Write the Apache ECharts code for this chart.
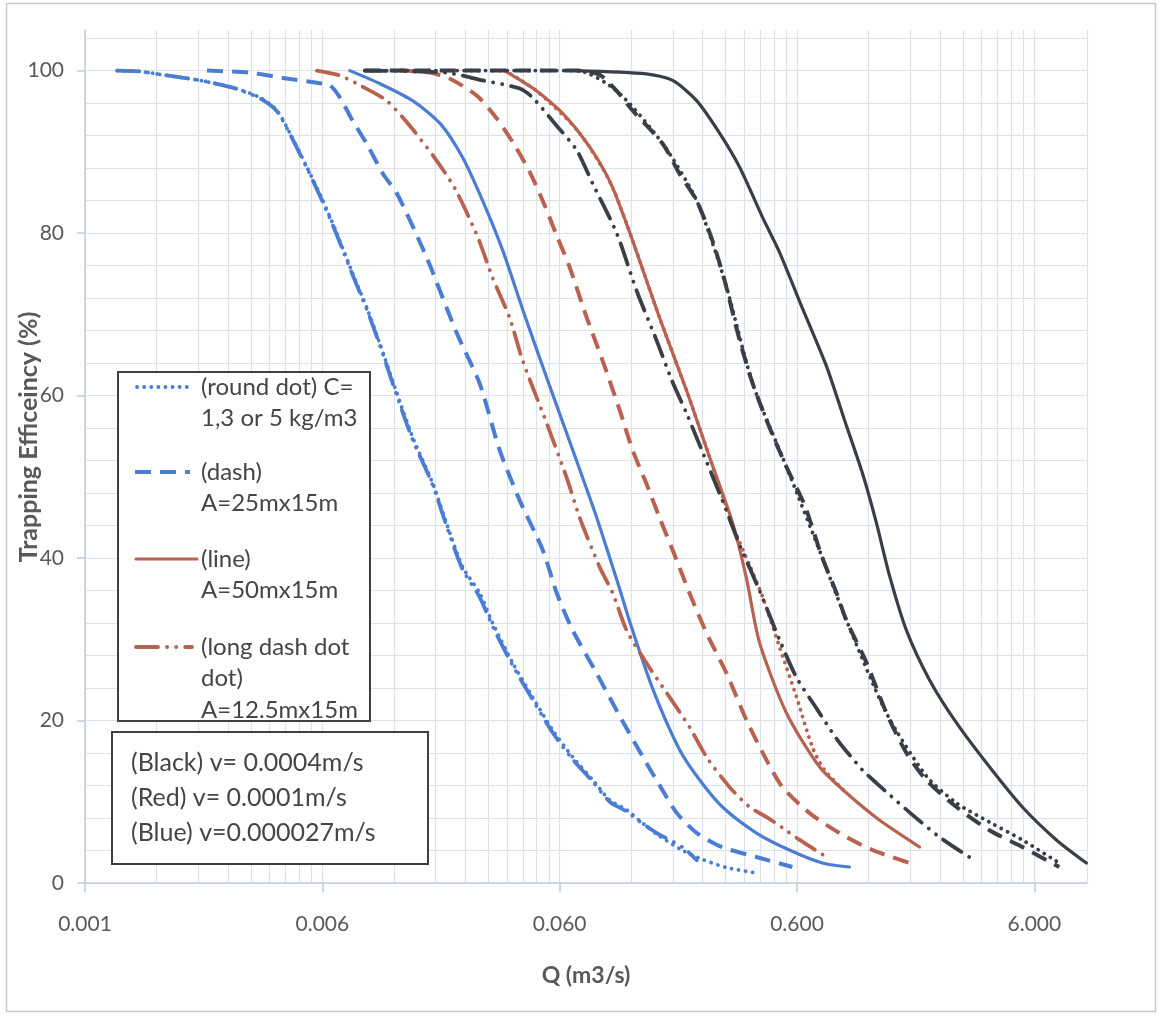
<!DOCTYPE html>
<html>
<head>
<meta charset="utf-8">
<script src="https://cdn.jsdelivr.net/npm/echarts@6/dist/echarts.min.js"></script>
<style>
html,body{margin:0;padding:0;background:#ffffff;}
#chart{width:1161px;height:1016px;}
</style>
</head>
<body>
<div id="chart"></div>
<script>
// ---------------- Data (Q in m3/s, trapping efficiency in %) ----------------
// Blue: v = 0.000027 m/s
const blueDotQ = [0.00082,0.00102,0.00133,0.00183,0.00252,0.00327,0.00386,0.00438,0.00517,0.00603,0.0069,0.00806,0.00924,0.01048,0.01236,0.0144,0.0175,0.0200,0.0234,0.0276,0.0313,0.0380,0.0461,0.0561,0.0681,0.0826,0.0975,0.1149,0.130,0.154,0.198,0.240,0.303,0.405];
const blueDotV = [100,99.9,99.4,98.8,97.9,96.7,95.1,92.3,88.1,84.0,80.0,75.0,70.8,66.4,60.3,54.9,49.2,44.3,38.9,35.7,32.0,27.1,22.9,18.8,15.5,12.7,10.2,9.0,7.7,6.0,4.0,2.9,1.9,1.23];
const blueDddQ = [0.00082,0.00102,0.00133,0.00183,0.00252,0.00327,0.00386,0.00438,0.00517,0.00603,0.0069,0.00806,0.00924,0.01048,0.01236,0.0144,0.0175,0.0200,0.0234,0.0276,0.0313,0.0380,0.0461,0.0561,0.0681,0.0826,0.0975,0.1149,0.130,0.154,0.198,0.227];
const blueDddV = [100,99.9,99.4,98.8,97.9,96.6,95.0,92.2,88.0,83.8,79.8,74.8,70.6,66.2,60.0,54.6,49.0,44.0,38.6,35.2,31.6,26.8,22.6,18.5,15.2,12.5,10.0,8.8,7.6,6.15,4.4,2.8];
const blueDashQ = [0.00196,0.00297,0.00409,0.00569,0.00646,0.00711,0.00806,0.00923,0.0108,0.01236,0.0165,0.0221,0.0276,0.0335,0.0407,0.0509,0.0583,0.0681,0.0859,0.110,0.139,0.158,0.187,0.227,0.291,0.405,0.574];
const blueDashV = [100,99.75,99.1,98.5,98.2,96.7,93.8,91.0,87.3,84.9,77.0,67.7,61.5,53.3,47.1,41.0,35.7,31.1,25.8,20.0,14.8,12.05,8.6,6.15,4.4,3.2,1.97];
const blueLineQ = [0.00783,0.01048,0.0144,0.0188,0.0234,0.0284,0.0345,0.0419,0.0529,0.0681,0.0859,0.1074,0.1183,0.148,0.192,0.233,0.291,0.405,0.557,0.768,0.998];
const blueLineV = [100,98.4,96.3,93.5,89.3,84.0,77.9,70.6,62.2,53.3,45.0,36.2,32.2,23.9,16.4,12.7,9.35,6.15,4.06,2.46,1.97];
// Red: v = 0.0001 m/s
const redLineQ = [0.0352,0.0395,0.048,0.06,0.0728,0.0859,0.1003,0.1217,0.158,0.2056,0.257,0.3215,0.368,0.417,0.542,0.746,0.970,1.334,1.97];
const redLineV = [100,99.1,97.5,95.1,92.3,89.3,85.6,79.1,69.6,60.6,52.4,44.3,37.4,29.6,20.9,14.3,11.07,7.75,4.43];
const redDotQ = [0.0352,0.048,0.0728,0.1003,0.158,0.2056,0.257,0.3215,0.379,0.430,0.507,0.597,0.697,0.784,0.970];
const redDotV = [100,97.5,92.3,85.6,69.6,60.6,52.4,44.0,39.1,35.2,29.0,22.9,16.7,13.9,11.07];
const redDashQ = [0.0127,0.0170,0.0207,0.0269,0.0326,0.0388,0.0449,0.0519,0.0583,0.0661,0.078,0.091,0.1074,0.1217,0.139,0.158,0.1795,0.2114,0.2495,0.303,0.368,0.447,0.521,0.678,0.906,1.248,1.91];
const redDashV = [100,99.75,99.0,96.9,94.1,90.8,87.5,83.4,79.7,75.8,69.6,64.3,58.2,53.3,49.2,45.0,41.0,35.7,30.75,25.8,20.0,15.1,11.8,8.6,6.15,4.06,2.2];
const redDddQ = [0.00569,0.00711,0.00863,0.0112,0.0143,0.0179,0.0217,0.0271,0.0313,0.0369,0.0419,0.0529,0.0642,0.0728,0.0884,0.1003,0.1149,0.139,0.1695,0.2114,0.2495,0.312,0.379,0.447,0.521,0.615,0.799];
const redDddV = [100,99.4,98.2,96.3,92.9,89.2,85.5,79.5,74.5,69.6,64.3,56.6,49.9,45.0,38.9,35.7,31.1,27.1,23.4,19.2,15.5,11.8,9.35,8.1,6.8,5.3,3.2];
// Black: v = 0.0004 m/s
const blackDddQ = [0.00906,0.0200,0.0284,0.0407,0.0461,0.0572,0.0708,0.0826,0.1043,0.1266,0.1536,0.178,0.2056,0.238,0.291,0.344,0.417,0.507,0.597,0.725,0.889,1.133,1.297,1.787,2.39,3.19];
const blackDddV = [100,99.75,98.8,97.8,96.7,93.5,90.2,86.1,80.0,72.9,66.8,61.9,57.8,53.3,47.1,41.6,36.0,29.9,25.3,21.5,17.6,13.9,12.3,8.7,5.66,3.2];
const blackDashQ = [0.00906,0.0708,0.0884,0.1043,0.1217,0.163,0.192,0.2266,0.264,0.297,0.344,0.390,0.459,0.542,0.646,0.761,0.88,0.97,1.178,1.43,1.735,2.10,2.82,3.88,5.34,7.64];
const blackDashV = [100,100,99.5,97.5,95.1,91.0,87.3,84.0,79.1,74.2,66.8,61.5,56.1,51.2,46.5,40.3,35.7,32.3,27.1,20.9,16.0,12.7,9.35,6.5,4.43,1.97];
const blackDotQ = [0.00906,0.0708,0.1043,0.163,0.2266,0.297,0.390,0.542,0.761,0.97,1.43,2.10,2.82,3.88,5.34,7.5];
const blackDotV = [100,100,97.5,91.0,84.0,74.2,61.5,51.2,40.3,32.3,20.9,13.2,9.84,7.5,5.3,2.6];
const blackLineQ = [0.0708,0.139,0.1795,0.2266,0.283,0.344,0.43,0.507,0.615,0.799,0.951,1.133,1.297,1.47,1.735,2.17,2.82,3.88,5.34,7.43,9.94];
const blackLineV = [100,99.6,98.8,96.3,92.3,88.1,81.9,77.6,71.6,63.6,57.0,50.4,44.3,37.9,31.1,25.0,19.7,14.3,9.35,5.3,2.46];

// Axis ticks
const xMin = 0.0006, xMax = 10;
const xMajorTicks = [0.0006, 0.006, 0.06, 0.6, 6];
const xMinorMultipliers = [1,2,3,4,5,6,7,8,9];
const yMajorTicks = [0, 20, 40, 60, 80, 100];
const yMin = 0, yMax = 105, yGridStep = 4;

// Titles and legend texts
const xTitle = 'Q (m3/s)';
const yTitle = 'Trapping Efficeincy (%)';
const legendEntries = [
  ['(round dot) C=', '1,3 or 5 kg/m3'],
  ['(dash)', 'A=25mx15m'],
  ['(line)', 'A=50mx15m'],
  ['(long dash dot', 'dot)', 'A=12.5mx15m']
];
const noteLines = ['(Black) v= 0.0004m/s', '(Red) v= 0.0001m/s', '(Blue) v=0.000027m/s'];

// ---------------- Styles ----------------
const BLUE = '#4a7dd3', RED = '#b9624f', BLACK = '#3a3e46';
const STY = {
  dot:  {type: [0.1, 7], cap: 'round', width: 3.8},
  dash: {type: [16, 9], cap: 'butt', width: 4},
  line: {type: 'solid', cap: 'round', width: 3.2},
  ddd:  {type: [22, 9, 0.1, 9, 0.1, 9], cap: 'round', width: 3.8}
};

const curves = [
  {name: 'Blue dash dot dot', q: blueDddQ, v: blueDddV, c: BLUE, s: 'ddd'},
  {name: 'Blue round dot', q: blueDotQ, v: blueDotV, c: BLUE, s: 'dot'},
  {name: 'Blue dash', q: blueDashQ, v: blueDashV, c: BLUE, s: 'dash'},
  {name: 'Blue line', q: blueLineQ, v: blueLineV, c: BLUE, s: 'line'},
  {name: 'Red dash dot dot', q: redDddQ, v: redDddV, c: RED, s: 'ddd'},
  {name: 'Red dash', q: redDashQ, v: redDashV, c: RED, s: 'dash'},
  {name: 'Red line', q: redLineQ, v: redLineV, c: RED, s: 'line'},
  {name: 'Red round dot', q: redDotQ, v: redDotV, c: RED, s: 'dot'},
  {name: 'Black dash dot dot', q: blackDddQ, v: blackDddV, c: BLACK, s: 'ddd'},
  {name: 'Black dash', q: blackDashQ, v: blackDashV, c: BLACK, s: 'dash'},
  {name: 'Black round dot', q: blackDotQ, v: blackDotV, c: BLACK, s: 'dot'},
  {name: 'Black line', q: blackLineQ, v: blackLineV, c: BLACK, s: 'line'}
];

// gridline positions (Excel-like log minor gridlines)
const xGridValues = [];
xMajorTicks.forEach(function (base) {
  xMinorMultipliers.forEach(function (m) {
    const val = +(base * m).toPrecision(6);
    if (val >= xMin && val <= xMax) xGridValues.push(val);
  });
});
xGridValues.push(xMax);
const yGridValues = [];
for (let y = yMin; y <= yMax; y += yGridStep) yGridValues.push(y);

const FONT = 'Lato';
const GRID_COLOR = '#dce2eb';
const AXIS_COLOR = '#c3ccd7';
const LABEL_COLOR = '#595959';
const TEXT_COLOR = '#454545';

const series = curves.map(function (c, idx) {
  const st = STY[c.s];
  return {
    type: 'line',
    name: c.name,
    xAxisIndex: 0,
    yAxisIndex: 0,
    data: c.q.map(function (q, i) { return [q, c.v[i]]; }),
    symbol: 'none',
    showSymbol: false,
    smooth: 0.25,
    clip: true,
    z: 3 + idx * 0.01,
    lineStyle: {color: c.c, width: st.width, type: st.type, cap: st.cap, join: 'round'},
    emphasis: {disabled: true}
  };
});

// graphics: outer frame, y title, legend boxes
const graphics = [];
graphics.push({type: 'rect', silent: true, z: 0, shape: {x: 6.5, y: 3.5, width: 1149, height: 1008},
  style: {fill: 'none', stroke: '#c4cad1', lineWidth: 1.5}});
graphics.push({type: 'text', z: 5, x: 29, y: 437, rotation: Math.PI / 2,
  style: {text: yTitle, x: 0, y: 0, font: 'bold 25px ' + FONT, fill: LABEL_COLOR, align: 'center', verticalAlign: 'middle'}});
graphics.push({type: 'rect', z: 100, shape: {x: 118, y: 372, width: 252, height: 349},
  style: {fill: '#ffffff', stroke: '#3f3f3f', lineWidth: 2}});
const legStyles = [
  {c: BLUE, s: 'dot', x1: 137, x2: 190},
  {c: BLUE, s: 'dash', x1: 135, x2: 190},
  {c: RED, s: 'line', x1: 136, x2: 197},
  {c: RED, s: 'ddd', x1: 136, x2: 192}
];
const legTop = [387, 472, 559, 647];
const lineH = 31.5;
legendEntries.forEach(function (lines, i) {
  const ls = legStyles[i];
  const st = STY[ls.s];
  graphics.push({type: 'line', z: 101, shape: {x1: ls.x1, y1: legTop[i], x2: ls.x2, y2: legTop[i]},
    style: {stroke: ls.c, lineWidth: st.width, lineDash: Array.isArray(st.type) ? st.type : null, lineCap: st.cap}});
  lines.forEach(function (t, j) {
    graphics.push({type: 'text', z: 101, style: {text: t, x: 201, y: legTop[i] + j * lineH,
      font: '24px ' + FONT, fill: TEXT_COLOR, verticalAlign: 'middle', align: 'left'}});
  });
});
graphics.push({type: 'rect', z: 100, shape: {x: 112, y: 732, width: 316, height: 132},
  style: {fill: '#ffffff', stroke: '#3f3f3f', lineWidth: 2}});
noteLines.forEach(function (t, j) {
  graphics.push({type: 'text', z: 101, style: {text: t, x: 131, y: 763 + j * 35,
    font: '25px ' + FONT, fill: TEXT_COLOR, verticalAlign: 'middle', align: 'left'}});
});

const chart = echarts.init(document.getElementById('chart'), null, {renderer: 'canvas'});
chart.setOption({
  animation: false,
  backgroundColor: '#ffffff',
  grid: {left: 85, right: 74, top: 30, bottom: 133, containLabel: false, outerBoundsMode: 'none'},
  xAxis: [
    {
      type: 'log', logBase: 10, min: xMin, max: xMax, position: 'bottom',
      name: xTitle, nameLocation: 'middle', nameGap: 81,
      nameTextStyle: {fontFamily: FONT, fontSize: 23, fontWeight: 'bold', color: LABEL_COLOR},
      axisLine: {show: true, onZero: false, lineStyle: {color: AXIS_COLOR, width: 1.5}},
      axisTick: {show: true, length: 9, inside: false, customValues: xMajorTicks, lineStyle: {color: AXIS_COLOR, width: 1.5}},
      axisLabel: {show: true, customValues: xMajorTicks, margin: 31, fontFamily: FONT, fontSize: 21, color: LABEL_COLOR,
        formatter: function (v) { return Number(v).toFixed(3); }},
      splitLine: {show: false}
    },
    {
      type: 'log', logBase: 10, min: xMin, max: xMax, position: 'top',
      axisLine: {show: false}, axisLabel: {show: false},
      axisTick: {show: false, customValues: xGridValues},
      splitLine: {show: true, lineStyle: {color: GRID_COLOR, width: 1.2}}
    }
  ],
  yAxis: [
    {
      type: 'value', min: yMin, max: yMax, position: 'left',
      axisLine: {show: true, onZero: false, lineStyle: {color: AXIS_COLOR, width: 1.5}},
      axisTick: {show: true, length: 8, customValues: yMajorTicks, lineStyle: {color: AXIS_COLOR, width: 1.5}},
      axisLabel: {show: true, customValues: yMajorTicks, margin: 21, fontFamily: FONT, fontSize: 21, color: LABEL_COLOR},
      splitLine: {show: false}
    },
    {
      type: 'value', min: yMin, max: yMax, position: 'right',
      axisLine: {show: false}, axisLabel: {show: false},
      axisTick: {show: false, customValues: yGridValues},
      splitLine: {show: true, lineStyle: {color: GRID_COLOR, width: 1.2}}
    }
  ],
  tooltip: {show: false},
  legend: {show: false},
  graphic: graphics,
  series: series
});
</script>
</body>
</html>
